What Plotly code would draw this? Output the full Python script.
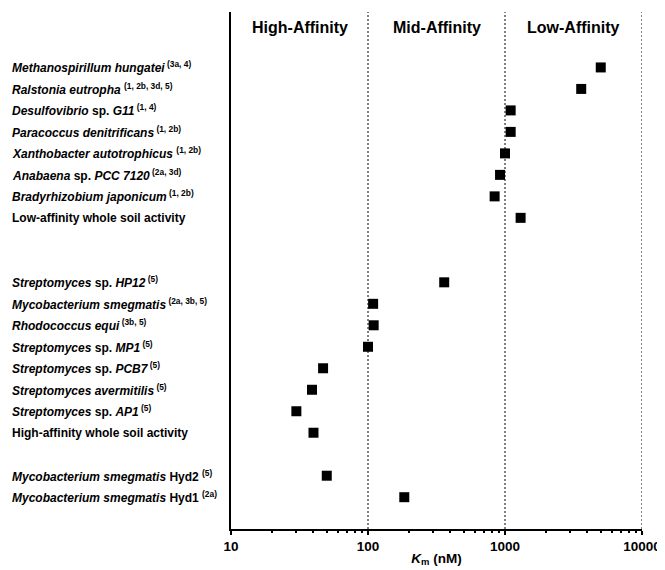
import math
import plotly.graph_objects as go

# ---- data ----
low_labels = [
    "<i>Methanospirillum hungatei</i><sup> (3a, 4)</sup>",
    "<i>Ralstonia eutropha</i> <sup>(1, 2b, 3d, 5)</sup>",
    "<i>Desulfovibrio</i> sp. <i>G11</i><sup> (1, 4)</sup>",
    "<i>Paracoccus denitrificans</i><sup> (1, 2b)</sup>",
    "<i>Xanthobacter autotrophicus</i> <sup>(1, 2b)</sup>",
    "<i>Anabaena</i> sp. <i>PCC 7120</i><sup> (2a, 3d)</sup>",
    "<i>Bradyrhizobium japonicum</i><sup> (1, 2b)</sup>",
    "Low-affinity whole soil activity",
]
low_km = [5000, 3600, 1100, 1100, 1000, 920, 840, 1300]

high_labels = [
    "<i>Streptomyces</i> sp. <i>HP12</i><sup> (5)</sup>",
    "<i>Mycobacterium smegmatis</i><sup> (2a, 3b, 5)</sup>",
    "<i>Rhodococcus equi</i><sup> (3b, 5)</sup>",
    "<i>Streptomyces</i> sp. <i>MP1</i><sup> (5)</sup>",
    "<i>Streptomyces</i> sp. <i>PCB7</i><sup> (5)</sup>",
    "<i>Streptomyces avermitilis</i><sup> (5)</sup>",
    "<i>Streptomyces</i> sp. <i>AP1</i><sup> (5)</sup>",
    "High-affinity whole soil activity",
]
high_km = [360, 109, 110, 100, 47, 39, 30, 40]

hyd_labels = [
    "<i>Mycobacterium smegmatis</i> Hyd2 <sup>(5)</sup>",
    "<i>Mycobacterium smegmatis</i> Hyd1 <sup>(2a)</sup>",
]
hyd_km = [50, 184]

region_names = ["High-Affinity", "Mid-Affinity", "Low-Affinity"]
region_bounds = [10, 100, 1000, 10000]
x_ticks = [10, 100, 1000, 10000]

# ---- assemble rows (groups separated by blank rows) ----
groups = [(low_labels, low_km), (high_labels, high_km), (hyd_labels, hyd_km)]
gaps_after = [2, 1, 0]
labels, kms, rows = [], [], []
r = 0
for (gl, gk), gap in zip(groups, gaps_after):
    for lab, k in zip(gl, gk):
        labels.append(lab)
        kms.append(k)
        rows.append(r)
        r += 1
    r += gap
last_row = rows[-1]

minor_vals = [m * 10 ** e for e in range(1, 4) for m in range(2, 10)]

FONT = "Liberation Sans, Arial, sans-serif"

fig = go.Figure()
fig.add_trace(go.Scatter(
    x=kms, y=rows, mode="markers",
    marker=dict(symbol="square", size=10, color="black"),
    showlegend=False, hoverinfo="x",
))

# vertical region boundaries
for b in region_bounds[1:]:
    fig.add_shape(type="line", xref="x", yref="paper", x0=b, x1=b, y0=0, y1=1,
                  line=dict(color="black", width=1, dash="2px,2px"))

# region headers
for name, a, b in zip(region_names, region_bounds[:-1], region_bounds[1:]):
    fig.add_annotation(x=(math.log10(a) + math.log10(b)) / 2, y=-1.86, xref="x", yref="y",
                       text="<b>%s</b>" % name, showarrow=False,
                       font=dict(family=FONT, size=16, color="black"))

# row labels (left aligned)
for lab, rr in zip(labels, rows):
    fig.add_annotation(x=-0.537, y=rr, xref="paper", yref="y", text="<b>%s</b>" % lab,
                       showarrow=False, xanchor="left", yanchor="middle",
                       font=dict(family=FONT, size=12, color="black"))

# page body has an 8px default margin, so the figure is sized to fit the window
fig.update_layout(
    width=657, height=562,
    margin=dict(l=223, r=23, t=4, b=41),
    plot_bgcolor="white", paper_bgcolor="white",
    font=dict(family=FONT, color="black"),
    xaxis=dict(
        type="log", range=[1, 4], automargin=False,
        tickvals=x_ticks, ticktext=["<b>%d</b>" % v for v in x_ticks],
        ticks="outside", ticklen=4, tickwidth=1.5, tickcolor="black",
        tickfont=dict(family=FONT, size=13.5, color="black"),
        showline=True, linecolor="black", linewidth=2,
        showgrid=False, zeroline=False,
        minor=dict(tickmode="array", tickvals=minor_vals, ticks="outside", ticklen=2,
                   tickwidth=1.5, tickcolor="black", showgrid=False),
        title=dict(text="<b><i>K</i><sub>m</sub> (nM)</b>", standoff=0,
                   font=dict(family=FONT, size=13.5, color="black")),
    ),
    yaxis=dict(
        range=[last_row + 1.48, -2.58], automargin=False,
        showticklabels=False, ticks="", showgrid=False, zeroline=False,
        showline=True, linecolor="black", linewidth=2,
    ),
)

fig.write_html("out.html")
